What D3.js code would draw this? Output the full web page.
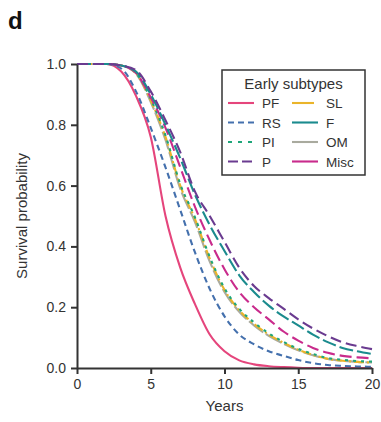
<!DOCTYPE html>
<html>
<head>
<meta charset="utf-8">
<script src="https://cdn.jsdelivr.net/npm/d3@7"></script>
<style>
  body { margin: 0; background: #fff; }
  svg { font-family: "Liberation Sans", Arial, sans-serif; }
</style>
</head>
<body>
<svg id="chart" width="381" height="422"></svg>
<script>
// survival curves, one value per year 0..20
const years = d3.range(0, 21);
const subtypes = ["PF", "RS", "PI", "P", "SL", "F", "OM", "Misc"];
const survPF   = [1, 1, 1, 0.975, 0.895, 0.76, 0.50, 0.33, 0.21, 0.11, 0.055, 0.025, 0.012, 0.006, 0.003, 0.001, 0, 0, 0, 0, 0];
const survRS   = [1, 1, 1, 0.985, 0.91, 0.79, 0.66, 0.52, 0.38, 0.26, 0.17, 0.11, 0.078, 0.055, 0.04, 0.026, 0.016, 0.01, 0.007, 0.005, 0.004];
const survPI   = [1, 1, 1, 0.995, 0.97, 0.885, 0.765, 0.605, 0.495, 0.365, 0.262, 0.195, 0.15, 0.114, 0.086, 0.063, 0.046, 0.033, 0.027, 0.023, 0.021];
const survP    = [1, 1, 1, 0.995, 0.98, 0.91, 0.815, 0.71, 0.58, 0.50, 0.415, 0.33, 0.27, 0.23, 0.195, 0.16, 0.13, 0.105, 0.085, 0.072, 0.062];
const survSL   = [1, 1, 1, 0.995, 0.97, 0.88, 0.76, 0.60, 0.49, 0.36, 0.257, 0.19, 0.145, 0.11, 0.083, 0.06, 0.043, 0.03, 0.024, 0.02, 0.018];
const survF    = [1, 1, 1, 0.995, 0.975, 0.90, 0.80, 0.69, 0.57, 0.47, 0.385, 0.305, 0.25, 0.205, 0.17, 0.14, 0.11, 0.085, 0.066, 0.055, 0.046];
const survOM   = [1, 1, 1, 0.995, 0.968, 0.875, 0.75, 0.59, 0.48, 0.35, 0.25, 0.185, 0.14, 0.106, 0.08, 0.058, 0.042, 0.03, 0.024, 0.02, 0.018];
const survMisc = [1, 1, 1, 0.995, 0.97, 0.89, 0.79, 0.66, 0.53, 0.42, 0.325, 0.25, 0.20, 0.16, 0.12, 0.09, 0.066, 0.05, 0.04, 0.035, 0.032];
const xTicks = [0, 5, 10, 15, 20];
const yTicks = [0, 0.2, 0.4, 0.6, 0.8, 1.0];

const series = [
  { name: "PF",   vals: survPF,   color: "#e5457c", dash: null,        legDash: null },
  { name: "RS",   vals: survRS,   color: "#4470ad", dash: "6,4",       legDash: "6,4" },
  { name: "PI",   vals: survPI,   color: "#1fa67a", dash: "3,5",       legDash: "4,6" },
  { name: "P",    vals: survP,    color: "#6a3b90", dash: "11,5",      legDash: "10,4" },
  { name: "SL",   vals: survSL,   color: "#eab42a", dash: "10,3,2,3",  legDash: "22,4,2,4" },
  { name: "F",    vals: survF,    color: "#1b8b8e", dash: "14,4",      legDash: null },
  { name: "OM",   vals: survOM,   color: "#a9aa9e", dash: "18,3",      legDash: null },
  { name: "Misc", vals: survMisc, color: "#c92b8c", dash: "12,5",      legDash: null }
];
// drawing order: background lines first
const drawOrder = ["PF", "RS", "OM", "SL", "PI", "Misc", "F", "P"];

const svg = d3.select("#chart");
const margin = { top: 64, left: 77, right: 9, bottom: 54 };
const W = 381, H = 422;

const x = d3.scaleLinear().domain([0, 20]).range([margin.left, W - margin.right]);
const y = d3.scaleLinear().domain([0, 1]).range([H - margin.bottom, margin.top]);

const line = d3.line()
  .x((d, i) => x(years[i]))
  .y(d => y(d))
  .curve(d3.curveMonotoneX);

const g = svg.append("g");
drawOrder.forEach(n => {
  const s = series.find(d => d.name === n);
  g.append("path")
    .attr("d", line(s.vals))
    .attr("fill", "none")
    .attr("stroke", s.color)
    .attr("stroke-width", 2.1)
    .attr("stroke-dasharray", s.dash);
});

// axes
const xAxis = svg.append("g")
  .attr("transform", `translate(0,${y(0)})`)
  .call(d3.axisBottom(x).tickValues(xTicks).tickSize(6).tickPadding(5).tickSizeOuter(0));
const yAxis = svg.append("g")
  .attr("transform", `translate(${x(0)},0)`)
  .call(d3.axisLeft(y).tickValues(yTicks).tickFormat(d3.format(".1f")).tickSize(6).tickPadding(5).tickSizeOuter(0));

[xAxis, yAxis].forEach(a => {
  a.select(".domain").attr("stroke", "#333").attr("stroke-width", 2);
  a.selectAll(".tick line").attr("stroke", "#333").attr("stroke-width", 2);
  a.selectAll(".tick text").attr("fill", "#333").attr("font-size", 14).attr("font-family", "Liberation Sans, Arial, sans-serif");
});

svg.append("text")
  .attr("x", (x(0) + x(20)) / 2).attr("y", 411)
  .attr("text-anchor", "middle").attr("font-size", 15).attr("fill", "#333")
  .text("Years");
svg.append("text")
  .attr("transform", `translate(27,${(y(0) + y(1)) / 2}) rotate(-90)`)
  .attr("text-anchor", "middle").attr("font-size", 15).attr("fill", "#333")
  .text("Survival probability");

svg.append("text")
  .attr("x", 8).attr("y", 29)
  .attr("font-size", 24).attr("font-weight", "bold").attr("fill", "#111")
  .text("d");

// legend
const leg = svg.append("g");
leg.append("rect")
  .attr("x", 222).attr("y", 70).attr("width", 143).attr("height", 105)
  .attr("fill", "#fff").attr("stroke", "#333").attr("stroke-width", 1.5);
leg.append("text")
  .attr("x", 293.5).attr("y", 89)
  .attr("text-anchor", "middle").attr("font-size", 15).attr("fill", "#333")
  .text("Early subtypes");
series.forEach((s, i) => {
  const col = Math.floor(i / 4), row = i % 4;
  const lx = 228 + col * 64, ly = 103 + row * 19.5;
  leg.append("line")
    .attr("x1", lx).attr("x2", lx + 26).attr("y1", ly).attr("y2", ly)
    .attr("stroke", s.color).attr("stroke-width", 2.1)
    .attr("stroke-dasharray", s.legDash);
  leg.append("text")
    .attr("x", lx + 34).attr("y", ly + 5)
    .attr("font-size", 13.5).attr("fill", "#333")
    .text(s.name);
});
</script>
</body>
</html>
